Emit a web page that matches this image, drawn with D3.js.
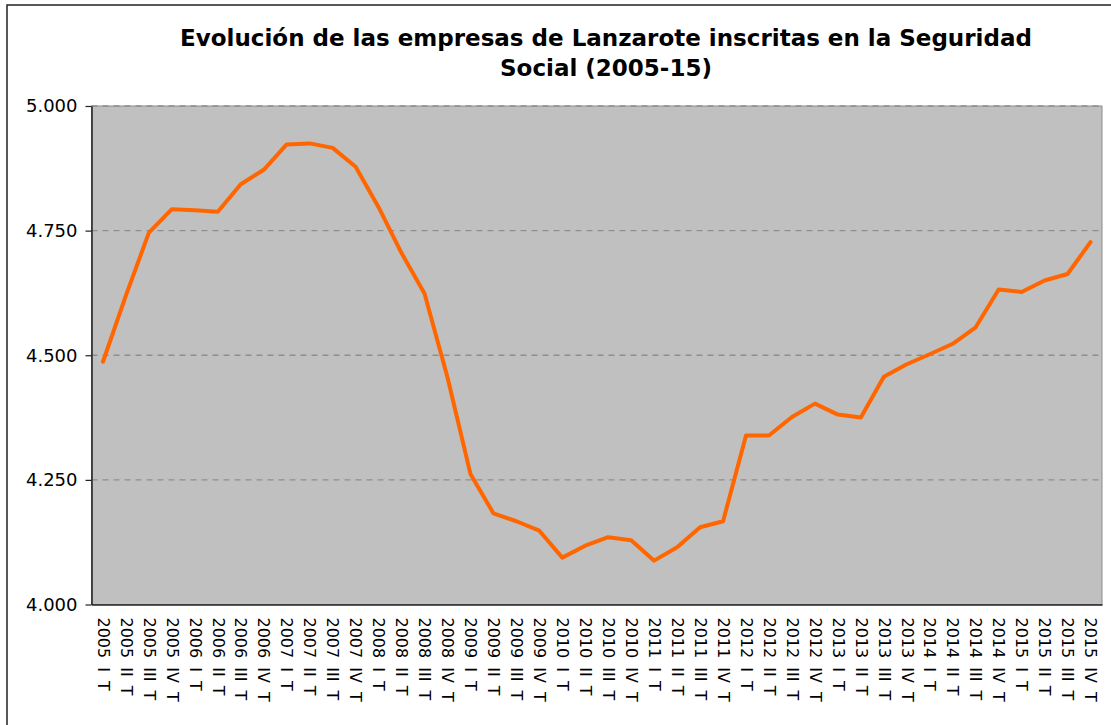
<!DOCTYPE html>
<html>
<head>
<meta charset="utf-8">
<script src="https://cdn.jsdelivr.net/npm/d3@7"></script>
<style>
html,body{margin:0;padding:0;background:#fff;}
svg{display:block;}
</style>
</head>
<body>
<svg id="chart" width="1111" height="725"></svg>
<script>
const years = [2005,2006,2007,2008,2009,2010,2011,2012,2013,2014,2015];
const quarters = ["I","II","III","IV"];
const categories = [];
years.forEach(y => quarters.forEach(q => categories.push(y + " " + q + " T")));

const empresas = [
  4487, 4620, 4746, 4793, 4791, 4788, 4843, 4872,
  4923, 4925, 4916, 4878, 4797, 4705, 4624, 4456,
  4262, 4183, 4167, 4148, 4094, 4118, 4135, 4129,
  4088, 4115, 4155, 4167, 4339, 4339, 4376, 4403,
  4381, 4375, 4457, 4482, 4502, 4523, 4556, 4632,
  4627, 4650, 4663, 4727
];
const yTicks = [4000, 4250, 4500, 4750, 5000];
const titleLines = ["Evolución de las empresas de Lanzarote inscritas en la Seguridad", "Social (2005-15)"];

const svg = d3.select("#chart");
const plot = {left: 91.5, right: 1102, top: 106, bottom: 604.5};

// outer border
svg.append("rect").attr("x", 7).attr("y", 5).attr("width", 1120).attr("height", 740)
  .attr("fill", "none").attr("stroke", "#222").attr("stroke-width", 1.5);

const x = d3.scaleBand().domain(categories).range([plot.left, plot.right]).padding(0);
const y = d3.scaleLinear().domain([4000, 5000]).range([plot.bottom, plot.top]);

// plot background
svg.append("rect").attr("x", plot.left).attr("y", plot.top)
  .attr("width", plot.right - plot.left).attr("height", plot.bottom - plot.top)
  .attr("fill", "#c0c0c0").attr("stroke", "#8c8c8c").attr("stroke-width", 1);

// gridlines
svg.append("g").selectAll("line").data(yTicks.filter(t => t > 4000)).join("line")
  .attr("x1", plot.left).attr("x2", plot.right)
  .attr("y1", d => y(d)).attr("y2", d => y(d))
  .attr("stroke", "#8e8e8e").attr("stroke-width", 1.3).attr("stroke-dasharray", "6,5");

// y axis
const fmt = d => d3.format(",")(d).replace(",", ".");
const yAxis = svg.append("g").attr("transform", `translate(${plot.left},0)`)
  .call(d3.axisLeft(y).tickValues(yTicks).tickFormat(fmt).tickSize(6).tickSizeOuter(0).tickPadding(8));
yAxis.select(".domain").attr("stroke", "#222").attr("stroke-width", 1.5);
yAxis.selectAll(".tick line").attr("stroke", "#222").attr("stroke-width", 1.2);
yAxis.selectAll(".tick text").attr("font-family", "DejaVu Sans, Verdana, sans-serif")
  .attr("font-size", 18).attr("fill", "#000");

// x axis
const xAxis = svg.append("g").attr("transform", `translate(0,${plot.bottom})`)
  .call(d3.axisBottom(x).tickSize(0).tickSizeOuter(0));
xAxis.select(".domain").attr("stroke", "#222").attr("stroke-width", 1.5);
xAxis.selectAll(".tick text")
  .attr("font-family", "DejaVu Sans, Verdana, sans-serif")
  .attr("font-size", 16).attr("fill", "#000")
  .attr("word-spacing", 4)
  .attr("text-anchor", "start")
  .attr("transform", "rotate(90)")
  .attr("x", 13).attr("y", 0).attr("dy", "0.33em");

// line
const line = d3.line().x((d, i) => x(categories[i]) + x.bandwidth() / 2).y(d => y(d));
svg.append("path").datum(empresas).attr("d", line)
  .attr("fill", "none").attr("stroke", "#ff6600").attr("stroke-width", 4)
  .attr("stroke-linejoin", "round").attr("stroke-linecap", "round");

// title
svg.append("g").selectAll("text").data(titleLines).join("text")
  .attr("x", 606).attr("y", (d, i) => 46 + i * 30)
  .attr("text-anchor", "middle")
  .attr("font-family", "DejaVu Sans, Verdana, sans-serif")
  .attr("font-weight", "bold").attr("font-size", 23).attr("fill", "#000")
  .text(d => d);
</script>
</body>
</html>
